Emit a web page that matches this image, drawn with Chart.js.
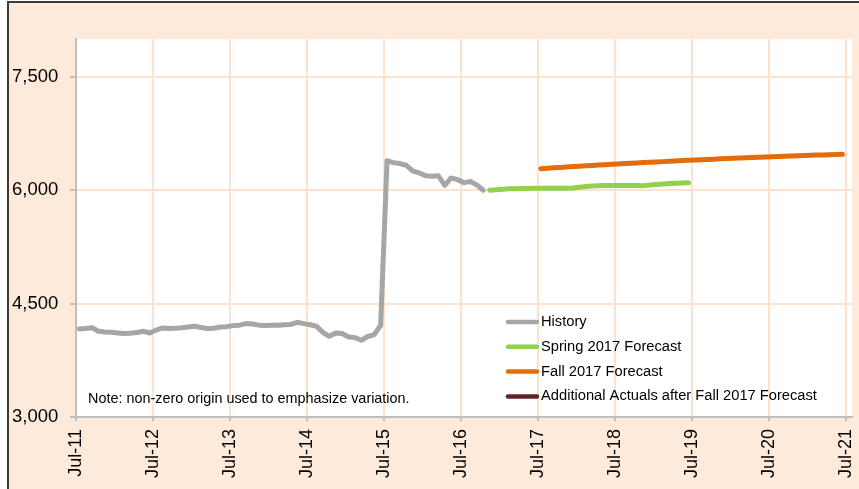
<!DOCTYPE html>
<html>
<head>
<meta charset="utf-8">
<script src="https://cdn.jsdelivr.net/npm/chart.js@4"></script>
<style>
  html, body { margin: 0; padding: 0; background: #fff; }
  canvas { display: block; }
</style>
</head>
<body>
<canvas id="myChart" width="859" height="489"></canvas>
<script>
// month index 0 = Jul-11
const xTickMonths = [0, 12, 24, 36, 48, 60, 72, 84, 96, 108, 120];
const xTickLabels = ["Jul-11", "Jul-12", "Jul-13", "Jul-14", "Jul-15", "Jul-16",
                     "Jul-17", "Jul-18", "Jul-19", "Jul-20", "Jul-21"];
const yTicks = [3000, 4500, 6000, 7500];

const historyStart = 0;
const historyValues = [
  4165, 4170, 4180, 4135, 4125, 4120, 4112, 4105, 4108, 4117, 4134, 4111,
  4150, 4178, 4170, 4175, 4180, 4190, 4200, 4185, 4170, 4175, 4191, 4195,
  4209, 4215, 4236, 4230, 4215, 4210, 4213, 4213, 4220, 4225, 4253, 4235,
  4220, 4200, 4120, 4068, 4111, 4105, 4058, 4050, 4015, 4065, 4090, 4213,
  6390, 6365, 6352, 6330, 6255, 6230, 6190, 6185, 6190, 6065, 6162, 6140,
  6100, 6114, 6070, 6000
];

const springStart = 64;
const springValues = [
  6000, 6005, 6012, 6018, 6020, 6022, 6024, 6025, 6025, 6025, 6026, 6026,
  6025, 6030, 6040, 6048, 6055, 6060, 6062, 6063, 6063, 6063, 6063, 6062,
  6060, 6068, 6075, 6082, 6088, 6092, 6095, 6098
];

const fallStart = 72;
const fallValues = [
  6285, 6290, 6296, 6301, 6306, 6312, 6317, 6322, 6327, 6332, 6338, 6343,
  6348, 6352, 6357, 6361, 6365, 6370, 6374, 6378, 6383, 6387, 6392, 6396,
  6400, 6404, 6407, 6411, 6415, 6418, 6422, 6426, 6429, 6433, 6436, 6440,
  6443, 6446, 6449, 6452, 6455, 6458, 6461, 6464, 6467, 6470, 6472, 6475
];

const actualsStart = 0;
const actualsValues = [];

const noteText = "Note: non-zero origin used to emphasize variation.";

// values sit in the middle of their month
function toPoints(start, values) {
  return values.map((v, i) => ({ x: start + i + 0.5, y: v }));
}

const FONT = "'Liberation Sans', Arial, sans-serif";
Chart.defaults.font.family = FONT;
Chart.defaults.color = "#000";

const frame = {
  id: "frame",
  beforeDraw(chart) {
    const c = chart.ctx;
    const a = chart.chartArea;
    c.save();
    c.fillStyle = "#fff";
    c.fillRect(0, 0, chart.width, chart.height);
    c.fillStyle = "#FDEADA";
    c.fillRect(8, 2, chart.width - 8, chart.height - 2);
    c.strokeStyle = "#3a3a3a";
    c.lineWidth = 2;
    c.beginPath();
    c.moveTo(8, chart.height);
    c.lineTo(8, 2);
    c.lineTo(chart.width, 2);
    c.stroke();
    c.fillStyle = "#fff";
    c.fillRect(a.left, a.top, a.right - a.left, a.bottom - a.top);
    c.restore();
  },
  afterDraw(chart) {
    const c = chart.ctx;
    c.save();
    c.font = "14.4px " + FONT;
    c.fillStyle = "#000";
    c.textBaseline = "alphabetic";
    c.fillText(noteText, 88, 403);

    c.font = "14.7px " + FONT;
    c.textBaseline = "middle";
    chart.data.datasets.forEach((ds, i) => {
      const y = 322 + i * 24.8;
      c.strokeStyle = ds.borderColor;
      c.lineWidth = 4.5;
      c.lineCap = "round";
      c.beginPath();
      c.moveTo(508, y);
      c.lineTo(537, y);
      c.stroke();
      c.fillText(ds.label, 541, y);
    });
    c.restore();
  }
};

const lineStyle = {
  borderWidth: 5,
  pointRadius: 0,
  borderCapStyle: "round",
  borderJoinStyle: "round",
  tension: 0,
  fill: false
};

const ctx = document.getElementById("myChart").getContext("2d");
const myChart = new Chart(ctx, {
  type: "line",
  data: {
    datasets: [
      Object.assign({ label: "History", data: toPoints(historyStart, historyValues), borderColor: "#A6A6A6" }, lineStyle),
      Object.assign({ label: "Spring 2017 Forecast", data: toPoints(springStart, springValues), borderColor: "#92D050" }, lineStyle),
      Object.assign({ label: "Fall 2017 Forecast", data: toPoints(fallStart, fallValues), borderColor: "#E46C0A" }, lineStyle),
      Object.assign({ label: "Additional Actuals after Fall 2017 Forecast", data: toPoints(actualsStart, actualsValues), borderColor: "#632523" }, lineStyle)
    ]
  },
  options: {
    responsive: false,
    animation: false,
    devicePixelRatio: 1,
    layout: { padding: { left: 12, top: 39, right: 7, bottom: 0 } },
    plugins: {
      legend: { display: false },
      tooltip: { enabled: false }
    },
    scales: {
      x: {
        type: "linear",
        min: 0,
        max: 121,
        afterBuildTicks(scale) {
          scale.ticks = xTickMonths.map(v => ({ value: v }));
        },
        afterFit(scale) {
          scale.height = 72;
          scale.paddingLeft = 0;
          scale.paddingRight = 0;
        },
        ticks: {
          autoSkip: false,
          maxRotation: 90,
          minRotation: 90,
          padding: 8,
          font: { size: 18 },
          color: "#000",
          callback(value) {
            const i = xTickMonths.indexOf(value);
            return i >= 0 ? xTickLabels[i] : "";
          }
        },
        grid: { color: "#FCE3D0", lineWidth: 2, tickLength: 4, tickColor: "#BFBFBF" },
        border: { color: "#BFBFBF", width: 2 }
      },
      y: {
        min: 3000,
        max: 8000,
        afterBuildTicks(scale) {
          scale.ticks = yTicks.map(v => ({ value: v }));
        },
        afterFit(scale) {
          scale.width = 64;
          scale.paddingTop = 0;
          scale.paddingBottom = 0;
        },
        ticks: {
          crossAlign: "far",
          font: { size: 18.5 },
          color: "#000",
          callback(value) { return value.toLocaleString("en-US"); }
        },
        grid: { color: "#FCE3D0", lineWidth: 2, tickLength: 6, tickColor: "#BFBFBF" },
        border: { color: "#BFBFBF", width: 2 }
      }
    }
  },
  plugins: [frame]
});
</script>
</body>
</html>
